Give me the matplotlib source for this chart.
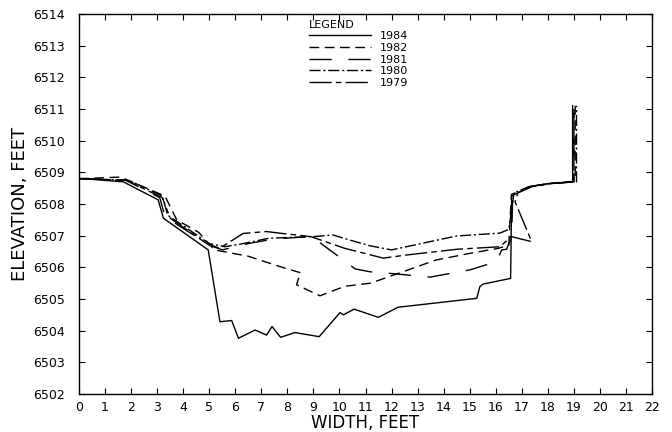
import numpy as np
import matplotlib
matplotlib.use("Agg")
import matplotlib.pyplot as plt

plt.rcParams['font.family'] = ['DejaVu Sans']

# survey data (width ft, elevation ft)
x_1984 = [0, 1.7, 3.04, 3.24, 4.96, 5.41, 5.86, 6.12, 6.76, 7.2, 7.41, 7.74, 8.29, 9.22,
          10.02, 10.15, 10.56, 11.49, 12.25, 15.27, 15.39, 15.51, 16.57, 16.61, 17.31,
          18.08, 18.95, 18.95]
y_1984 = [6508.81, 6508.70, 6508.13, 6507.55, 6506.55, 6504.28, 6504.32, 6503.76, 6504.02,
          6503.86, 6504.13, 6503.79, 6503.94, 6503.81, 6504.57, 6504.50, 6504.68, 6504.42,
          6504.74, 6505.02, 6505.39, 6505.47, 6505.65, 6508.25, 6508.55, 6508.65, 6508.70,
          6511.10]

x_1982 = [0, 1.6, 3.3, 3.75, 4.6, 5.2, 6.5, 7.8, 8.5, 8.35, 9.25, 10.2, 11.2, 12.4, 13.7,
          15.0, 16.1, 16.5, 16.6, 17.3, 18.1, 19.05, 19.05]
y_1982 = [6508.8, 6508.85, 6508.25, 6507.5, 6507.1, 6506.55, 6506.35, 6506.0, 6505.83,
          6505.45, 6505.1, 6505.4, 6505.5, 6505.85, 6506.23, 6506.44, 6506.6, 6506.7,
          6508.3, 6508.55, 6508.65, 6508.72, 6511.1]

x_1981 = [0, 1.8, 3.1, 3.3, 5.0, 5.5, 6.5, 7.5, 8.93, 10.15, 10.6, 11.17, 12.2, 13.47,
          15.01, 16.03, 16.23, 16.42, 16.48, 16.61, 16.65, 17.3, 18.1, 19.0, 19.0]
y_1981 = [6508.8, 6508.75, 6508.2, 6507.6, 6506.7, 6506.55, 6506.75, 6506.9, 6506.97,
          6506.23, 6505.95, 6505.86, 6505.79, 6505.69, 6505.92, 6506.18, 6506.55, 6506.57,
          6506.71, 6506.92, 6508.3, 6508.55, 6508.65, 6508.7, 6511.0]

x_1980 = [0, 1.9, 3.2, 3.4, 5.0, 5.6, 6.3, 7.3, 9.0, 9.76, 10.4, 11.17, 12.0, 13.47, 14.5,
          16.16, 16.5, 16.7, 17.3, 18.1, 19.1, 19.1]
y_1980 = [6508.8, 6508.75, 6508.25, 6507.65, 6506.75, 6506.65, 6506.75, 6506.92, 6506.97,
          6507.02, 6506.86, 6506.68, 6506.55, 6506.81, 6506.99, 6507.08, 6507.2, 6508.35,
          6508.55, 6508.65, 6508.7, 6511.1]

x_1979 = [0, 1.8, 3.2, 3.5, 4.9, 5.4, 6.3, 7.2, 7.8, 8.9, 10.2, 11.68, 12.58, 14.5, 16.16,
          16.6, 17.38, 16.74, 16.85, 17.4, 18.2, 19.0, 19.0]
y_1979 = [6508.8, 6508.75, 6508.2, 6507.55, 6506.75, 6506.6, 6507.07, 6507.13, 6507.07,
          6506.97, 6506.6, 6506.29, 6506.39, 6506.57, 6506.65, 6506.97, 6506.81, 6508.07,
          6508.35, 6508.55, 6508.65, 6508.7, 6511.0]

years = ['1984', '1982', '1981', '1980', '1979']
dashes = {'1984': None,
          '1982': (7, 4),
          '1981': (16, 12),
          '1980': (8, 2, 1.5, 2),
          '1979': (16, 3, 4, 3)}

fig = plt.figure(figsize=(6.72, 4.32), dpi=100)
ax = fig.add_axes([0.1176, 0.088, 0.8527, 0.8796])

series = [(x_1984, y_1984), (x_1982, y_1982), (x_1981, y_1981),
          (x_1980, y_1980), (x_1979, y_1979)]
for yr, (xs, ys) in zip(years, series):
    line, = ax.plot(xs, ys, color='black', lw=1.0, label=yr)
    if dashes[yr] is not None:
        line.set_dashes(dashes[yr])

ax.set_xlim(0, 22)
ax.set_ylim(6502, 6514)
ax.set_xticks(np.arange(0, 23, 1))
ax.set_yticks(np.arange(6502, 6515, 1))
ax.set_yticklabels([str(v) for v in range(6502, 6515)])
ax.tick_params(direction='in', top=True, right=True, length=4, width=0.8,
               labelsize=9)
ax.tick_params(axis='y', pad=10)
ax.tick_params(axis='x', pad=5)
for s in ax.spines.values():
    s.set_linewidth(1.0)

ax.set_xlabel('WIDTH, FEET', fontsize=12, labelpad=0)
ax.set_ylabel('ELEVATION, FEET', fontsize=13, labelpad=3)

leg = ax.legend(title='LEGEND', loc='upper left', bbox_to_anchor=(0.401, 0.985),
                frameon=False, fontsize=8, title_fontsize=8, handlelength=5.6,
                labelspacing=0.15, handletextpad=0.8, borderaxespad=0, borderpad=0)
leg._legend_box.align = 'left'

fig.savefig('out.png', dpi=100)
